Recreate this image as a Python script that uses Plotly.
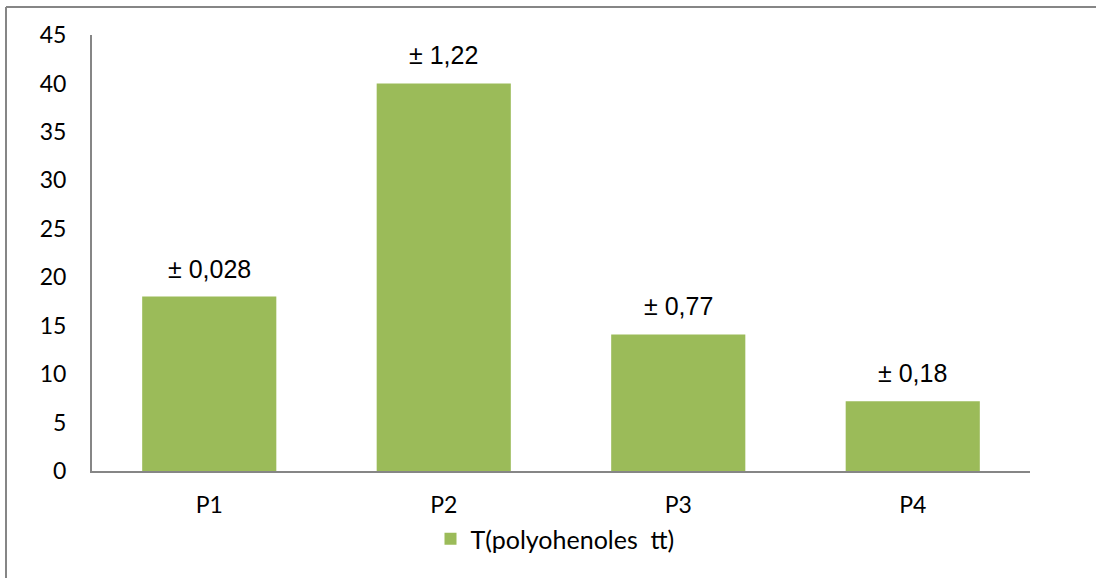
import plotly.graph_objects as go

# Total polyphenol content per sample, with the standard deviation shown above each bar
samples = ["P1", "P2", "P3", "P4"]
polyphenols = [18.0, 40.0, 14.1, 7.2]
deviations = ["± 0,028", "± 1,22", "± 0,77", "± 0,18"]
y_ticks = [0, 5, 10, 15, 20, 25, 30, 35, 40, 45]

W, H = 1096, 578
L, R, T, B = 92, 66, 35, 107
pw, ph = W - L - R, H - T - B

bar_color = "#9BBB59"
axis_color = "#868686"
tick_font = dict(family="Lato, 'Open Sans', sans-serif", size=23, color="#000000")
legend_font = dict(family="Lato, 'Open Sans', sans-serif", size=25, color="#000000")

fig = go.Figure()
fig.add_trace(go.Bar(
    x=samples,
    y=polyphenols,
    name="T(polyohenoles  tt)",
    marker=dict(color=bar_color, line=dict(width=0)),
    width=0.572,
    showlegend=True,
))

for s, v, d in zip(samples, polyphenols, deviations):
    fig.add_annotation(
        x=s, y=v, text=d, showarrow=False,
        xref="x", yref="y", yanchor="bottom", yshift=12,
        font=dict(family="Liberation Sans, Arial, sans-serif", size=25, color="#000000"),
    )

# Outer chart frame (left and top edges)
def px_x(p):
    return (p - L) / pw

def px_y(p):
    return (H - B - p) / ph

fig.add_shape(type="line", xref="paper", yref="paper",
              x0=px_x(6), x1=px_x(6), y0=px_y(7), y1=px_y(H + 5),
              line=dict(color=axis_color, width=2))
fig.add_shape(type="line", xref="paper", yref="paper",
              x0=px_x(6), x1=px_x(W + 5), y0=px_y(7), y1=px_y(7),
              line=dict(color=axis_color, width=2))

fig.update_layout(
    width=W, height=H,
    margin=dict(l=L, r=R, t=T, b=B, autoexpand=False),
    paper_bgcolor="white",
    plot_bgcolor="white",
    bargap=0.428,
    legend=dict(
        orientation="h", x=0.5 + 7 / W, xanchor="center",
        xref="container", yref="container",
        y=1 - 516 / H, yanchor="top",
        font=legend_font,
    ),
    xaxis=dict(
        showline=True, linecolor=axis_color, linewidth=2,
        ticks="", tickfont=tick_font, showgrid=False, zeroline=False,
        ticklabelstandoff=12,
    ),
    yaxis=dict(
        range=[0, 45], tickvals=y_ticks,
        showline=True, linecolor=axis_color, linewidth=2,
        ticks="", tickfont=tick_font, showgrid=False, zeroline=False,
        ticklabelstandoff=19,
    ),
)

fig.write_html("out.html")
